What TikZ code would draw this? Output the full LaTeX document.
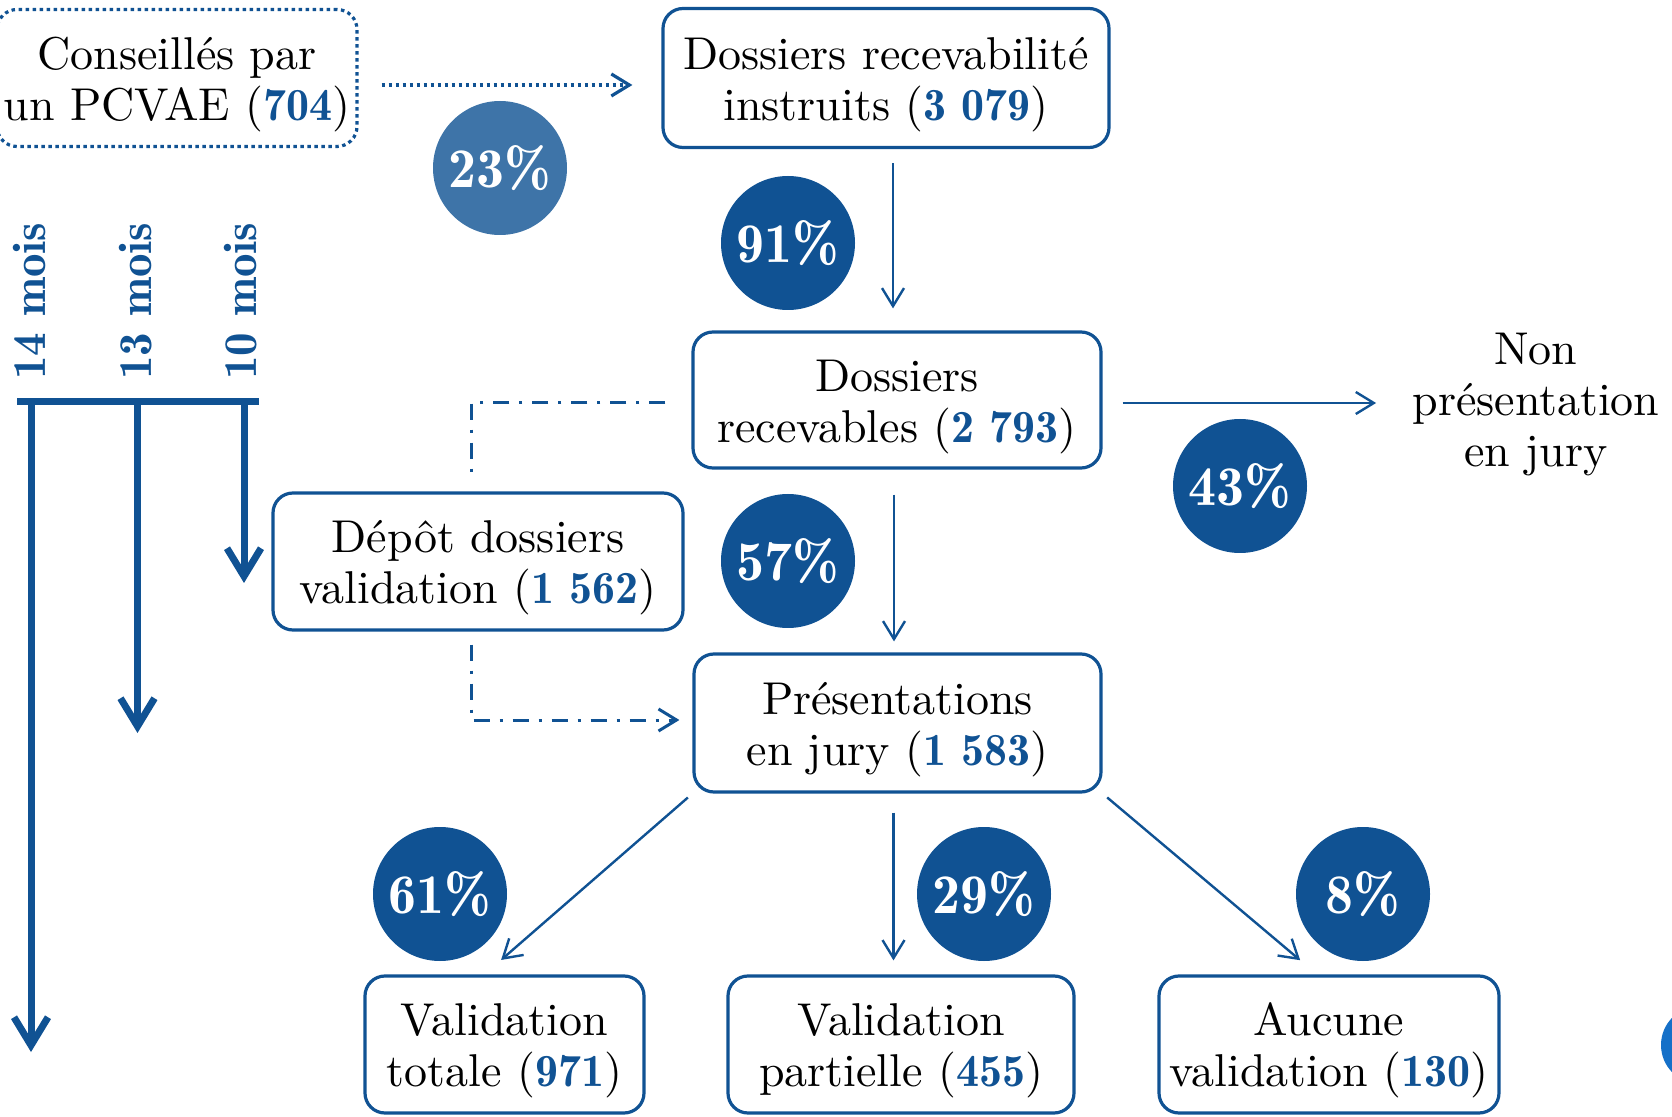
\documentclass[tikz,border=0pt]{standalone}
\usepackage{fontspec}
\setmainfont{lmroman10-regular}[Extension=.otf,BoldFont=lmromandemi10-regular,ItalicFont=lmroman10-italic]
\usepackage{tikz}
\usetikzlibrary{arrows.meta}
\usepackage{xcolor}
\definecolor{bleu}{RGB}{16,82,147}
\definecolor{bleuclair}{RGB}{62,116,168}
\definecolor{bleuvif}{RGB}{21,112,200}
\newcommand{\nb}[1]{\textcolor{bleu}{\textbf{#1}}}

\begin{document}
\begin{tikzpicture}[x=0.5pt,y=-0.5pt,
 texte/.style={align=center,inner sep=0pt,font=\fontsize{23}{25.5}\selectfont},
 boite/.style={texte,draw=bleu,line width=1.6pt,rounded corners=10pt,text height=48pt,text depth=5.75pt},
 pct/.style={circle,fill=bleu,text=white,inner sep=0pt,minimum size=67pt,font=\fontsize{28}{30}\selectfont\bfseries},
 fleche/.style={bleu,line width=1.2pt,-{Straight Barb[length=9pt,width=11pt]}},
 tiret/.style={bleu,line width=1.5pt,dash pattern=on 8pt off 5pt on 1.5pt off 5pt},
 mois/.style={text=bleu,font=\fontsize{23.5}{25}\selectfont\bfseries,rotate=90,anchor=west,inner sep=0pt},
 duree/.style={bleu,line width=3.5pt,-{Straight Barb[length=14pt,width=17pt]}}]
 \useasboundingbox (0,0) rectangle (1672,1117);

 \node[boite,dash pattern=on 1.75pt off 1.75pt,minimum width=180pt,minimum height=68.5pt] (cons) at (177,78) {Conseillés par\\un PCVAE (\nb{704})};
 \node[boite,minimum width=223pt,minimum height=69.5pt] (instr) at (886,78) {Dossiers recevabilité\\instruits (\nb{3 079})};
 \node[boite,minimum width=204pt,minimum height=68pt] (recev) at (897,400) {Dossiers\\recevables (\nb{2 793})};
 \node[boite,minimum width=205pt,minimum height=68.5pt] (depot) at (478,561.5) {Dépôt dossiers\\validation (\nb{1 562})};
 \node[boite,minimum width=203.5pt,minimum height=69pt] (pres) at (897.5,723) {Présentations\\en jury (\nb{1 583})};
 \node[boite,minimum width=139.5pt,minimum height=68.5pt] (tot) at (504.5,1044.5) {Validation\\totale (\nb{971})};
 \node[boite,minimum width=173pt,minimum height=68.5pt] (part) at (901,1044.5) {Validation\\partielle (\nb{455})};
 \node[boite,minimum width=170pt,minimum height=68.5pt] (auc) at (1329,1044.5) {Aucune\\validation (\nb{130})};
 \node[texte] (nonpres) at (1536,405) {Non\\présentation\\en jury};

 \node[pct,fill=bleuclair] (p23) at (500,168) {23\%};
 \node[pct] (p91) at (788,243) {91\%};
 \node[pct] (p43) at (1240,486) {43\%};
 \node[pct] (p57) at (788,561) {57\%};
 \node[pct] (p61) at (440,894) {61\%};
 \node[pct] (p29) at (984,894) {29\%};
 \node[pct] (p8) at (1363,894) {8\%};
 \fill[bleuvif] (1700,1045) circle (19.5pt);

 \draw[fleche,line width=1.6pt,dash pattern=on 1.75pt off 1.75pt] ([xshift=11.5pt,yshift=-3.5pt]cons.east) -- ([xshift=-14.5pt,yshift=-3.5pt]instr.west);
 \draw[fleche,shorten <=7pt,shorten >=11pt] ([xshift=-2pt]instr.south -| recev.north) -- ([xshift=-2pt]recev.north);
 \draw[fleche,shorten <=12.5pt,shorten >=5.5pt] ([xshift=-1.5pt]recev.south) -- ([xshift=-1.5pt]recev.south |- pres.north);
 \draw[fleche,shorten <=10pt,shorten >=18pt] ([yshift=-1.5pt]recev.east) -- ([yshift=-1.5pt]recev.east -| nonpres.west);
 \draw[tiret] ([xshift=-13pt,yshift=-1.5pt]recev.west) -| ([xshift=-3.5pt,yshift=8pt]depot.north);
 \draw[tiret,-{Straight Barb[length=9pt,width=11pt]}] ([xshift=-3.5pt,yshift=-6.5pt]depot.south) |- ([xshift=-6.5pt,yshift=1.5pt]pres.west);
 \draw[fleche,shorten <=3pt,shorten >=11pt] (pres.south west) -- ([xshift=-10pt]tot.north);
 \draw[fleche,shorten <=9.5pt,shorten >=7pt] ([xshift=-2pt]pres.south) -- ([xshift=-2pt]pres.south |- part.north);
 \draw[fleche,shorten <=3pt,shorten >=11pt] (pres.south east) -- ([xshift=-6pt]auc.north);

 % durees
 \coordinate (barreG) at (17,402);
 \coordinate (barreD) at (259,402);
 \coordinate (t14) at (31,402);
 \coordinate (t13) at (137.5,402);
 \coordinate (t10) at (244,402);
 \coordinate (f14) at (31,1052);
 \coordinate (f13) at (137.5,733);
 \coordinate (f10) at (244,583);
 \draw[bleu,line width=3.5pt] (barreG) -- (barreD);
 \draw[duree] (t14) -- (f14);
 \draw[duree] (t13) -- (f13);
 \draw[duree] (t10) -- (f10);
 \node[mois] (m14) at (29,380) {14 mois};
 \node[mois] (m13) at (136,380) {13 mois};
 \node[mois] (m10) at (241,380) {10 mois};
\end{tikzpicture}
\end{document}
